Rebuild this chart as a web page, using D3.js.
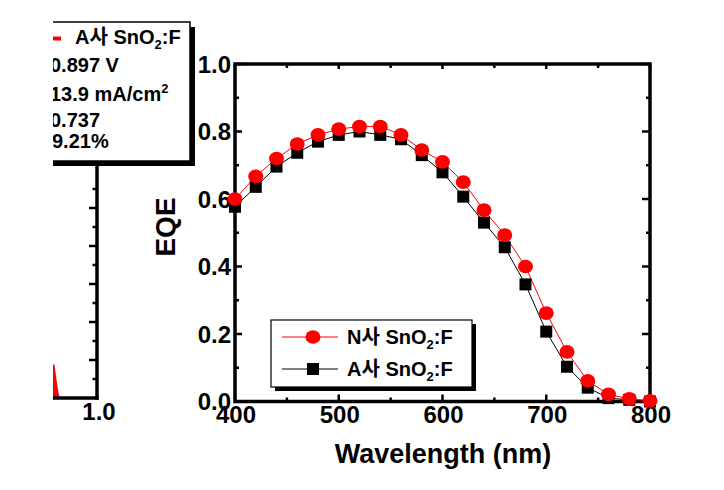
<!DOCTYPE html>
<html><head><meta charset="utf-8">
<script src="https://cdn.jsdelivr.net/npm/d3@7"></script>
<style>html,body{margin:0;padding:0;background:#fff}svg{display:block}
text{font-family:"Liberation Sans",Arial,"Noto Sans CJK KR",sans-serif;font-weight:bold;fill:#000}</style>
</head><body><svg id="c" width="724" height="490"></svg>
<script>
// ---- data ----
const wavelength = [400,420,440,460,480,500,520,540,560,580,600,620,640,660,680,700,720,740,760,780,800];
const eqeN = [0.600,0.667,0.720,0.763,0.790,0.807,0.815,0.815,0.790,0.745,0.710,0.650,0.567,0.493,0.400,0.262,0.147,0.061,0.021,0.008,0.002];
const eqeA = [0.577,0.636,0.696,0.737,0.770,0.790,0.800,0.790,0.777,0.730,0.679,0.607,0.530,0.457,0.347,0.207,0.103,0.041,0.010,0.005,0.000];
const xTicks = [400,500,600,700,800];
const xMinor = [450,550,650,750];
const yTicks = [0.0,0.2,0.4,0.6,0.8,1.0];
const yMinor = [0.1,0.3,0.5,0.7,0.9];
const seriesNames = ["N사 SnO", "A사 SnO"];
// left (cut-off) J-V panel
const jvVoltage = [0.884,0.888,0.892,0.895,0.898];
const jvCurrent = [1.75,1.15,0.6,0.25,0.0];
const leftTicksMajor = [2,4,6,8,10];
const leftTicksMinor = [1,3,5,7,9,11];
const leftXTicks = [1.0];
const leftLegendLines = ["0.897 V","13.9 mA/cm","0.737","9.21%"];

const svg = d3.select("#c");
svg.append("rect").attr("width",724).attr("height",490).attr("fill","#fff");

// ===== left cut-off panel =====
svg.append("clipPath").attr("id","lc").append("rect").attr("x",53).attr("y",0).attr("width",300).attr("height",490);
const L = svg.append("g").attr("clip-path","url(#lc)");
const xV = d3.scaleLinear().domain([0.9,1.0]).range([59.5,97]);
const yJ = d3.scaleLinear().domain([0,12]).range([398,170]);
// red J-V fragment
const area = d3.area().x0(40).x1((d,i)=>xV(jvVoltage[i])).y((d,i)=>yJ(jvCurrent[i]));
L.append("path").attr("d",area(jvVoltage)).attr("fill","#f00");
L.append("path").attr("d",d3.line().x((d,i)=>xV(jvVoltage[i])).y((d,i)=>yJ(jvCurrent[i]))(jvVoltage))
  .attr("fill","none").attr("stroke","#f00").attr("stroke-width",2);
// axes
L.append("line").attr("x1",xV(1.0)).attr("x2",xV(1.0)).attr("y1",yJ(12.4)).attr("y2",yJ(0)+1.75)
  .attr("stroke","#000").attr("stroke-width",3.5);
L.append("line").attr("x1",40).attr("x2",xV(1.0)+1.75).attr("y1",yJ(0)).attr("y2",yJ(0))
  .attr("stroke","#000").attr("stroke-width",3.5);
leftTicksMajor.forEach(v=>L.append("line").attr("x1",xV(1.0)).attr("x2",xV(1.0)-8).attr("y1",yJ(v)).attr("y2",yJ(v)).attr("stroke","#000").attr("stroke-width",2.5));
leftTicksMinor.forEach(v=>L.append("line").attr("x1",xV(1.0)).attr("x2",xV(1.0)-4.5).attr("y1",yJ(v)).attr("y2",yJ(v)).attr("stroke","#000").attr("stroke-width",2.5));
leftXTicks.forEach(v=>svg.append("text").attr("x",xV(v)+2).attr("y",420).attr("text-anchor","middle").attr("font-size",24).text(d3.format(".1f")(v)));
// left legend
L.append("rect").attr("x",35).attr("y",27).attr("width",160).attr("height",139).attr("fill","#000");
L.append("rect").attr("x",30).attr("y",22).attr("width",160).attr("height",139).attr("fill","#fff").attr("stroke","#000").attr("stroke-width",1.5);
L.append("line").attr("x1",40).attr("x2",61).attr("y1",38.5).attr("y2",38.5).attr("stroke","#f00").attr("stroke-width",4);
const lt = L.append("text").attr("x",75).attr("y",44).attr("font-size",20);
lt.append("tspan").text(seriesNames[1]);
lt.append("tspan").attr("font-size",13).attr("dy",5).text("2");
lt.append("tspan").attr("dy",-5).text(":F");
const lbase = [72,101,127,148];
leftLegendLines.forEach((s,i)=>{
  const t = L.append("text").attr("x", i===3?52:50).attr("y",lbase[i]).attr("font-size",20).text(s);
  if(i===1) t.append("tspan").attr("font-size",13).attr("dy",-8).text("2");
});

// ===== main EQE panel =====
const x = d3.scaleLinear().domain([400,800]).range([235,650]);
const y = d3.scaleLinear().domain([0,1]).range([401.5,64]);
const g = svg.append("g");
const AW = 3.5, TW = 2.5;
// frame
g.append("rect").attr("x",x(400)).attr("y",y(1)).attr("width",x(800)-x(400)).attr("height",y(0)-y(1))
  .attr("fill","none").attr("stroke","#000").attr("stroke-width",AW);
// ticks (inward)
xTicks.forEach(v=>{
  g.append("line").attr("x1",x(v)).attr("x2",x(v)).attr("y1",y(0)).attr("y2",y(0)-7).attr("stroke","#000").attr("stroke-width",TW);
  g.append("line").attr("x1",x(v)).attr("x2",x(v)).attr("y1",y(1)).attr("y2",y(1)+5).attr("stroke","#000").attr("stroke-width",TW);
});
xMinor.forEach(v=>{
  g.append("line").attr("x1",x(v)).attr("x2",x(v)).attr("y1",y(0)).attr("y2",y(0)-4).attr("stroke","#000").attr("stroke-width",TW);
  g.append("line").attr("x1",x(v)).attr("x2",x(v)).attr("y1",y(1)).attr("y2",y(1)+4).attr("stroke","#000").attr("stroke-width",TW);
});
yTicks.forEach(v=>{
  g.append("line").attr("x1",x(400)).attr("x2",x(400)+7).attr("y1",y(v)).attr("y2",y(v)).attr("stroke","#000").attr("stroke-width",TW);
  g.append("line").attr("x1",x(800)).attr("x2",x(800)-8).attr("y1",y(v)).attr("y2",y(v)).attr("stroke","#000").attr("stroke-width",TW);
});
yMinor.forEach(v=>{
  g.append("line").attr("x1",x(400)).attr("x2",x(400)+4).attr("y1",y(v)).attr("y2",y(v)).attr("stroke","#000").attr("stroke-width",TW);
  g.append("line").attr("x1",x(800)).attr("x2",x(800)-4).attr("y1",y(v)).attr("y2",y(v)).attr("stroke","#000").attr("stroke-width",TW);
});
// tick labels
xTicks.forEach(v=>g.append("text").attr("x",x(v)+1).attr("y",423).attr("text-anchor","middle").attr("font-size",24).text(v));
yTicks.forEach(v=>g.append("text").attr("x",x(400)-4).attr("y",y(v)).attr("dy","0.36em").attr("text-anchor","end").attr("font-size",24).text(d3.format(".1f")(v)));
// axis titles
g.append("text").attr("x",443).attr("y",463).attr("text-anchor","middle").attr("font-size",27).text("Wavelength (nm)");
g.append("text").attr("transform","translate(175,227) rotate(-90)").attr("text-anchor","middle").attr("font-size",28).text("EQE");

// series
const line = arr => d3.line().x((d,i)=>x(wavelength[i])).y((d,i)=>y(arr[i]))(arr);
g.append("path").attr("d",line(eqeA)).attr("fill","none").attr("stroke","#000").attr("stroke-width",1);
g.append("path").attr("d",line(eqeN)).attr("fill","none").attr("stroke","#f00").attr("stroke-width",1);
g.selectAll(".sq").data(eqeA).join("rect").attr("x",(d,i)=>x(wavelength[i])-6).attr("y",d=>y(d)-6)
  .attr("width",12).attr("height",12).attr("fill","#000");
g.selectAll(".ci").data(eqeN).join("ellipse").attr("cx",(d,i)=>x(wavelength[i])).attr("cy",d=>y(d))
  .attr("rx",7.5).attr("ry",6.8).attr("fill","#f00");

// legend
const lg = g.append("g");
lg.append("rect").attr("x",275).attr("y",324).attr("width",201).attr("height",67).attr("fill","#000");
lg.append("rect").attr("x",271).attr("y",320).attr("width",201).attr("height",67).attr("fill","#fff").attr("stroke","#000").attr("stroke-width",1.2);
const rows = [{c:"#f00",y:337,shape:"c"},{c:"#000",y:369,shape:"s"}];
rows.forEach((r,i)=>{
  lg.append("line").attr("x1",282).attr("x2",338).attr("y1",r.y).attr("y2",r.y).attr("stroke",r.c).attr("stroke-width",1);
  if(r.shape==="c") lg.append("ellipse").attr("cx",313).attr("cy",r.y).attr("rx",7.5).attr("ry",6.8).attr("fill",r.c);
  else lg.append("rect").attr("x",307).attr("y",r.y-6).attr("width",12).attr("height",12).attr("fill",r.c);
  const t = lg.append("text").attr("x",347).attr("y",r.y+7).attr("font-size",20);
  t.append("tspan").text(seriesNames[i]);
  t.append("tspan").attr("font-size",13).attr("dy",5).text("2");
  t.append("tspan").attr("dy",-5).text(":F");
});
</script></body></html>
